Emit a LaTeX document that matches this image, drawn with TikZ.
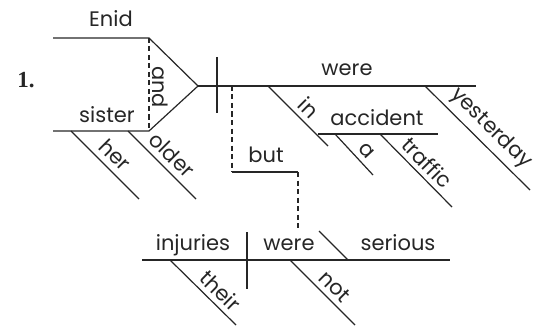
\documentclass[tikz,border=0pt]{standalone}
\usepackage{fontspec}
\newfontfamily\geo{Poppins}
\newfontfamily\numfont{Liberation Serif}
\begin{document}
\begin{tikzpicture}[x=1pt,y=-1pt,line width=1.2pt,
  every node/.style={font=\geo\fontsize{21}{24}\selectfont,inner sep=0pt,text=black!85},
  ln/.style={draw=black!85},
  dsh/.style={draw=black!85,dash pattern=on 5pt off 3.5pt},
  word/.style={anchor=base},
  lbl/.style={sloped,above=#1},
  lbl/.default=5pt]
\useasboundingbox (0,0) rectangle (540,326);
% coordinates
\coordinate (e1) at (53,38);   \coordinate (e2) at (149,38);
\coordinate (s1) at (53,131);  \coordinate (s2) at (149,131);
\coordinate (apex) at (198,86); \coordinate (mend) at (476,86);
\coordinate (dv1) at (217,57); \coordinate (dv2) at (217,113);
\coordinate (cj1) at (232,86); \coordinate (cj2) at (232,172);
\coordinate (cj3) at (298,172); \coordinate (cj4) at (298,230);
\coordinate (in1) at (268,86); \coordinate (in2) at (328,146);
\coordinate (ac1) at (318,134); \coordinate (ac2) at (438,134);
\coordinate (a1) at (335,134); \coordinate (a2) at (373,175);
\coordinate (tr1) at (380,134); \coordinate (tr2) at (452,207);
\coordinate (ye1) at (425,86); \coordinate (ye2) at (530,190);
\coordinate (her1) at (71,131); \coordinate (her2) at (139,199);
\coordinate (old1) at (128,131); \coordinate (old2) at (196,199);
\coordinate (b1) at (142,260); \coordinate (b2) at (450,260);
\coordinate (bd1) at (247,232); \coordinate (bd2) at (247,289);
\coordinate (pa1) at (319,231); \coordinate (pa2) at (348,260);
\coordinate (th1) at (170,260); \coordinate (th2) at (236,325);
\coordinate (no1) at (290,260); \coordinate (no2) at (355,325);
% number
\node[anchor=base,font=\numfont\bfseries\fontsize{23}{26}\selectfont] (num) at (26,88) {1.};
% compound subject
\draw[ln] (e1) -- (e2) -- (apex) -- (s2) -- (s1);
\draw[dsh] (e2) -- (s2);
\node[word] (enid) at (111,27) {Enid};
\node[word] (sister) at (107,122) {sister};
\node[rotate=-90] (and) at (160,87) {and};
\draw[ln] (her1) -- node[lbl=6pt,pos=0.5] (her) {her} (her2);
\draw[ln] (old1) -- node[lbl=6pt,pos=0.5] (older) {older} (old2);
% main clause
\draw[ln] (apex) -- (mend);
\draw[ln] (dv1) -- (dv2);
\node[word] (were) at (347,76) {were};
\draw[ln] (in1) -- node[lbl=5pt,pos=0.52] (in) {in} (in2);
\draw[ln] (ac1) -- (ac2);
\node[word] (accident) at (377,125) {accident};
\draw[ln] (a1) -- node[lbl=5pt,pos=0.6] (a) {a} (a2);
\draw[ln] (tr1) -- node[lbl=5pt,pos=0.52] (traffic) {traffic} (tr2);
\draw[ln] (ye1) -- node[lbl=5pt,pos=0.52] (yesterday) {yesterday} (ye2);
% conjunction but
\draw[dsh] (cj1) -- (cj2);
\draw[ln] (cj2) -- (cj3);
\draw[dsh] (cj3) -- (cj4);
\node[word] (but) at (266,162) {but};
% second clause
\draw[ln] (b1) -- (b2);
\draw[ln] (bd1) -- (bd2);
\draw[ln] (pa1) -- (pa2);
\node[word] (injuries) at (193,250) {injuries};
\node[word] (were2) at (289,250) {were};
\node[word] (serious) at (398,250) {serious};
\draw[ln] (th1) -- node[lbl=5pt,pos=0.62] (their) {their} (th2);
\draw[ln] (no1) -- node[lbl=5pt,pos=0.55] (not) {not} (no2);
\end{tikzpicture}
\end{document}
